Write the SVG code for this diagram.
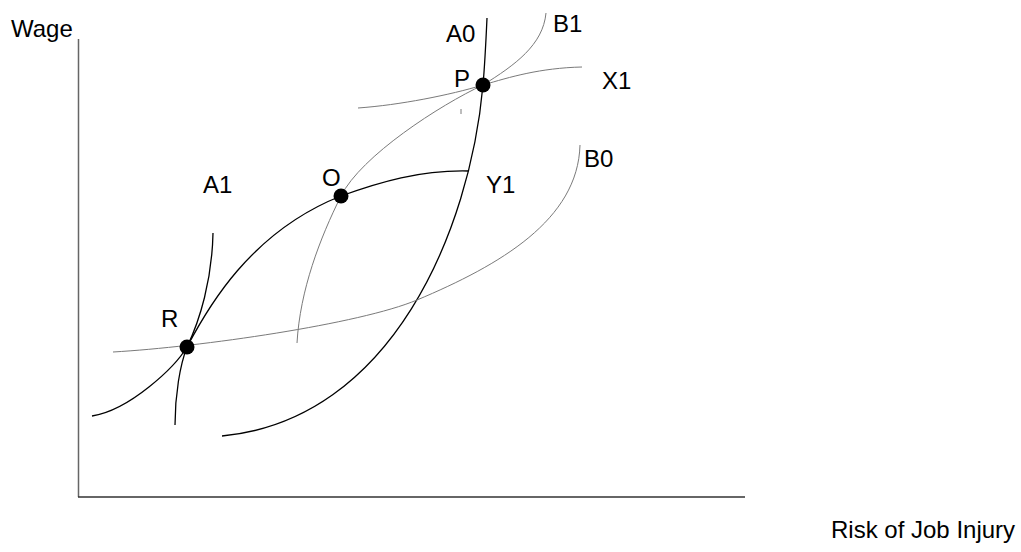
<svg xmlns="http://www.w3.org/2000/svg" width="1021" height="552" viewBox="0 0 1021 552">
<style>
text{font-family:"Liberation Sans",Arial,sans-serif;font-size:24px;fill:#000}
.k{fill:none;stroke:#000;stroke-width:1.3}
.g{fill:none;stroke:#7a7a7a;stroke-width:1}
.dot{fill:#000}
</style>
<rect width="1021" height="552" fill="#fff"/>
<g id="axes">
<line x1="78.5" y1="39" x2="78.5" y2="497" stroke="#666" stroke-width="1.5"/>
<line x1="78" y1="497" x2="745" y2="497" stroke="#333" stroke-width="1.5"/>
<text x="11" y="37">Wage</text>
<text x="831" y="538">Risk of Job Injury</text>
</g>
<g id="connectors">
<path id="A0" class="k" d="M487,18 C486,40 485,62 483,85 C470,230 392,420 222,436"/>
<path id="Y1" class="k" d="M468,171 C420,170 380,182 341,196 C250,232 207,309 187,347 C175,367 130,410 92,416"/>
<path id="A1" class="k" d="M213,233 C212,280 200,320 187,347 C180,365 175,395 175,425"/>
<path id="B1" class="g" d="M546,13 C543,45 515,65 483,85 C440,105 361,156 341,196 C320,238 300,290 297,343"/>
<path id="X1" class="g" d="M358,108 C400,105 450,95 483,85 C510,77 540,68 582,67"/>
<path id="B0" class="g" d="M580,145 C578,220 500,265 417,300 C360,324 200,347 113,352"/>
<line id="tick" class="g" x1="461" y1="109" x2="461" y2="114"/>
</g>
<g id="P"><circle class="dot" cx="483" cy="85" r="7.5"/><text x="454" y="87">P</text></g>
<g id="O"><circle class="dot" cx="341" cy="196" r="7.5"/><text x="322" y="186">O</text></g>
<g id="R"><circle class="dot" cx="187" cy="347" r="7.5"/><text x="161" y="327">R</text></g>
<g id="labels">
<text x="446" y="42">A0</text>
<text x="553" y="32">B1</text>
<text x="602" y="89">X1</text>
<text x="584" y="167">B0</text>
<text x="486" y="193">Y1</text>
<text x="203" y="193">A1</text>
</g>
</svg>
